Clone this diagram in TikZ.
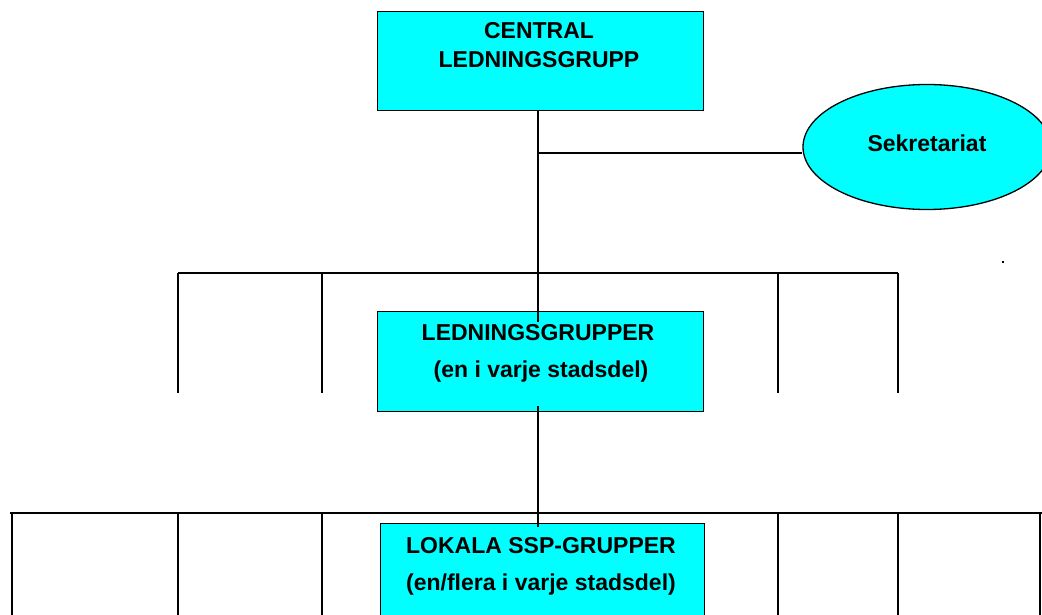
\documentclass[tikz,border=0pt]{standalone}
\usepackage{fontspec}
\setmainfont{Liberation Sans}
\usetikzlibrary{shapes.geometric}
\definecolor{aqua}{RGB}{0,255,255}
\begin{document}
\begin{tikzpicture}[x=1pt,y=-1pt,
  box/.style={draw=black, line width=1.3pt, fill=aqua, inner sep=0pt, anchor=north west},
  lbl/.style={font=\fontsize{23}{27}\selectfont\bfseries, anchor=base, inner sep=0pt},
  conn/.style={line width=1.8pt, black}]
\useasboundingbox (0,0) rectangle (1042,615);
\clip (0,0) rectangle (1042,615);
% boxes
\node[box, minimum width=326pt, minimum height=99pt] (central) at (377,11) {};
\node[box, minimum width=326pt, minimum height=100pt] (mid) at (377,311) {};
\node[box, minimum width=324pt, minimum height=110pt] (local) at (380,523) {};
\node[draw=black, line width=1.3pt, fill=aqua, ellipse, inner sep=0pt,
      minimum width=248pt, minimum height=125pt] (secr) at (927,147) {};
% texts
\node[lbl] (c1) at (539,39) {CENTRAL};
\node[lbl] (c2) at (539,68) {LEDNINGSGRUPP};
\node[lbl] (m1) at (538,340) {LEDNINGSGRUPPER};
\node[lbl] (m2) at (541,377) {(en i varje stadsdel)};
\node[lbl] (l1) at (541,553) {LOKALA SSP-GRUPPER};
\node[lbl] (l2) at (541,590) {(en/flera i varje stadsdel)};
\node[lbl] (s1) at (927,152) {Sekretariat};
% coordinates
\coordinate (ctop) at (538,110);
\coordinate (cend) at (538,322);
\coordinate (sj) at (538,153);
\coordinate (mstart) at (538,406);
\coordinate (mend) at (538,527);
\coordinate (h1l) at (178,273);
\coordinate (h1r) at (898,273);
\coordinate (h2l) at (10,513);
\coordinate (h2r) at (1042,513);
% connectors
\draw[conn] (ctop) -- (cend);
\draw[conn] (sj) -- (sj -| secr.west);
\draw[conn] (h1l) -- (h1r);
\foreach \x in {178,322,778,898} \draw[conn] (\x,273) -- (\x,393);
\draw[conn] (mstart) -- (mend);
\draw[conn] (h2l) -- (h2r);
\foreach \x in {12,178,322,778,898,1040} \draw[conn] (\x,513) -- (\x,620);
% stray dot
\fill[black] (1002,261) rectangle (1004,263);
\end{tikzpicture}
\end{document}
